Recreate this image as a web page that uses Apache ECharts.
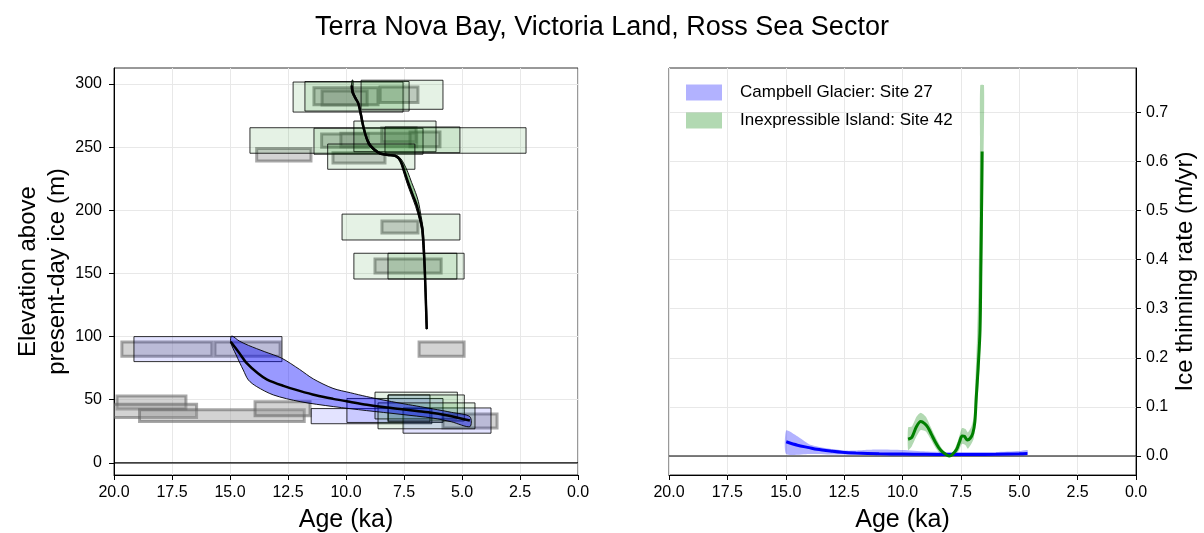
<!DOCTYPE html>
<html>
<head>
<meta charset="utf-8">
<script src="https://cdn.jsdelivr.net/npm/echarts@6/dist/echarts.min.js"></script>
<style>
  html, body { margin: 0; padding: 0; background: #ffffff; }
  #chart { width: 1204px; height: 533px; }
</style>
</head>
<body>
<div id="chart"></div>
<script>
const FONT = '"Liberation Sans", Arial, Helvetica, sans-serif';

// Tick labels
const ageTicks = [0, 2.5, 5, 7.5, 10, 12.5, 15, 17.5, 20];
const elevTicks = [0, 50, 100, 150, 200, 250, 300];
const rateTicks = [0, 0.1, 0.2, 0.3, 0.4, 0.5, 0.6, 0.7];

// Sample boxes: [oldest age ka, youngest age ka, lowest elev m, highest elev m]
const grayBoxes = [
  [11.38, 8.62, 283.6, 297.0],
  [11.03, 9.09, 283.4, 294.5],
  [8.53, 6.90, 285.4, 297.6],
  [13.85, 11.51, 239.0, 249.0],
  [11.05, 9.04, 249.9, 260.4],
  [10.22, 6.95, 250.4, 261.0],
  [10.56, 8.32, 237.5, 245.5],
  [8.46, 6.98, 254.3, 265.4],
  [7.24, 5.95, 250.4, 262.0],
  [8.45, 6.90, 182.0, 191.6],
  [8.75, 5.90, 150.4, 161.5],
  [19.66, 15.78, 84.5, 95.8],
  [15.65, 12.84, 84.5, 95.8],
  [6.85, 4.91, 84.5, 95.8],
  [19.87, 16.90, 42.7, 53.0],
  [20.60, 16.44, 35.9, 46.5],
  [18.90, 11.80, 32.7, 42.0],
  [13.92, 11.55, 37.4, 48.5],
  [5.82, 3.49, 27.7, 38.8]
];
const blueBoxes = [
  [19.14, 12.76, 80.2, 100.0],
  [11.50, 6.30, 31.0, 43.0],
  [9.96, 5.82, 32.0, 51.0],
  [8.19, 6.38, 32.5, 53.8],
  [7.54, 3.75, 23.5, 43.5]
];
const greenBoxes = [
  [12.28, 7.54, 277.8, 301.6],
  [11.77, 7.28, 278.6, 302.0],
  [9.35, 5.82, 280.0, 303.0],
  [14.14, 2.24, 245.2, 265.4],
  [11.38, 6.68, 244.4, 265.0],
  [9.66, 6.12, 246.4, 270.7],
  [8.32, 5.09, 245.6, 266.0],
  [10.79, 7.03, 232.5, 252.5],
  [10.17, 5.09, 176.5, 197.0],
  [9.66, 5.22, 145.6, 166.0],
  [8.19, 4.91, 145.6, 166.0],
  [8.75, 5.20, 34.8, 56.0],
  [8.18, 4.90, 33.2, 53.8],
  [8.62, 4.44, 27.0, 47.5]
];

// Elevation histories [age ka, elevation m]
const campbellElevMean = [[14.97, 96], [14.6, 87], [14.28, 79], [13.8, 71], [13.4, 66], [12.7, 61], [12.0, 57], [11.3, 53.5], [10.56, 50.7], [9.8, 48.2], [9.1, 46], [8.4, 44.2], [7.67, 42.7], [6.95, 41.1], [6.25, 39.5], [5.45, 37], [4.66, 33.5]];
const campbellElevUpper = [[14.93, 100.5], [14.6, 96.5], [14.2, 93], [13.5, 88], [12.77, 82.9], [12.0, 74], [11.41, 66.5], [10.56, 59], [9.8, 55.5], [9.11, 52.5], [8.4, 49.8], [7.67, 47.3], [6.95, 45], [6.24, 42.7], [5.45, 40], [4.66, 36.6]];
const campbellElevLower = [[14.97, 95.5], [14.75, 86], [14.57, 78.9], [14.43, 73.6], [14.21, 65.7], [13.85, 60.4], [13.13, 53.8], [11.98, 48.5], [10.55, 44.6], [9.11, 41.4], [7.67, 38.5], [6.24, 35.4], [5.45, 32.5], [4.66, 28.7]];

const inexElevMean = [[9.76, 299], [9.72, 294], [9.6, 289], [9.47, 284.7], [9.36, 276], [9.25, 266], [9.12, 257.5], [8.97, 251.7], [8.75, 247.6], [8.53, 245], [8.2, 243.8], [7.89, 243.2], [7.72, 241], [7.6, 237.2], [7.45, 229], [7.31, 221.4], [7.12, 212], [6.95, 204], [6.8, 193], [6.7, 184], [6.62, 160], [6.57, 135], [6.52, 106]];
const inexElevOld = [[9.74, 303], [9.76, 294], [9.64, 289], [9.5, 284.7], [9.39, 276], [9.28, 266], [9.15, 257.5], [9.0, 251], [8.77, 247], [8.55, 244.6], [8.2, 243.5], [7.9, 242.8], [7.74, 240.5], [7.63, 236.5], [7.5, 229], [7.36, 221], [7.18, 212], [7.0, 203], [6.84, 193], [6.74, 184], [6.65, 160], [6.59, 135], [6.54, 106]];
const inexElevYoung = [[9.7, 303], [9.68, 294], [9.56, 289], [9.44, 284.7], [9.33, 276], [9.22, 266], [9.09, 257.5], [8.94, 252.3], [8.72, 248.3], [8.5, 245.6], [8.18, 244.3], [7.86, 243.7], [7.68, 241.8], [7.52, 237.5], [7.33, 230], [7.17, 222], [7.0, 214], [6.88, 207], [6.77, 196], [6.68, 186], [6.6, 160], [6.55, 135], [6.5, 106]];

// Thinning rates [age ka, m/yr]
const campbellRate = [[14.98, 0.029], [14.5, 0.022], [14.0, 0.017], [13.67, 0.0136], [13.0, 0.0095], [12.6, 0.0075], [12.0, 0.006], [11.0, 0.0045], [10.0, 0.004], [9.0, 0.0035], [8.0, 0.003], [7.0, 0.003], [6.0, 0.0035], [5.0, 0.0045], [4.65, 0.005]];
const campbellRateUpper = [[14.98, 0.052], [14.5, 0.04], [14.0, 0.024], [13.5, 0.018], [13.0, 0.014], [12.5, 0.011], [12.0, 0.011], [11.5, 0.0125], [11.0, 0.013], [10.0, 0.012], [9.0, 0.009], [8.0, 0.008], [7.0, 0.008], [6.0, 0.008], [5.0, 0.01], [4.65, 0.012]];
const campbellRateLower = [[14.98, 0.004], [14.0, 0.004], [13.0, 0.003], [12.0, 0.002], [10.0, 0.001], [8.0, 0.0005], [6.0, 0.001], [4.65, 0.002]];

const inexRate = [[9.76, 0.034], [9.6, 0.038], [9.4, 0.06], [9.22, 0.07], [9.05, 0.066], [8.91, 0.058], [8.75, 0.043], [8.6, 0.029], [8.45, 0.017], [8.3, 0.0088], [8.1, 0.002], [7.99, 0.0], [7.85, 0.004], [7.68, 0.0136], [7.55, 0.03], [7.45, 0.0407], [7.35, 0.04], [7.22, 0.0326], [7.1, 0.036], [6.99, 0.046], [6.9, 0.07], [6.84, 0.12], [6.76, 0.18], [6.68, 0.256], [6.64, 0.4], [6.61, 0.52], [6.59, 0.62]];
const inexRateUpper = [[9.76, 0.058], [9.6, 0.06], [9.4, 0.08], [9.22, 0.088], [9.0, 0.08], [8.8, 0.06], [8.6, 0.04], [8.4, 0.022], [8.2, 0.008], [8.0, 0.003], [7.8, 0.01], [7.6, 0.035], [7.45, 0.057], [7.3, 0.055], [7.2, 0.048], [7.05, 0.06], [6.95, 0.08], [6.88, 0.15], [6.8, 0.25], [6.74, 0.36], [6.7, 0.5], [6.68, 0.65], [6.67, 0.755]];
const inexRateLower = [[9.76, 0.012], [9.6, 0.02], [9.4, 0.04], [9.22, 0.053], [9.0, 0.05], [8.8, 0.035], [8.6, 0.018], [8.4, 0.006], [8.2, 0.0], [8.0, -0.002], [7.8, 0.0], [7.6, 0.01], [7.45, 0.025], [7.3, 0.022], [7.2, 0.015], [7.05, 0.025], [6.95, 0.035], [6.85, 0.08], [6.75, 0.14], [6.68, 0.2], [6.62, 0.3], [6.56, 0.45], [6.53, 0.6], [6.51, 0.755]];

const zeroLine = [[20, 0], [0, 0]];

const SITE_A = 'Campbell Glacier: Site 27';
const SITE_B = 'Inexpressible Island: Site 42';

function boxSeries(id, data, fill, stroke, lineWidth, z) {
  return {
    type: 'custom', id, xAxisIndex: 0, yAxisIndex: 0, z, clip: true, silent: true,
    data: data,
    renderItem: function (params, api) {
      const tl = api.coord([api.value(0), api.value(3)]);
      const br = api.coord([api.value(1), api.value(2)]);
      return {
        type: 'rect',
        shape: { x: tl[0], y: tl[1], width: br[0] - tl[0], height: br[1] - tl[1] },
        style: { fill: fill, stroke: stroke, lineWidth: lineWidth }
      };
    }
  };
}

function bandSeries(name, axis, edgeA, edgeB, fill, stroke, smooth, z) {
  return {
    type: 'custom', name, xAxisIndex: axis, yAxisIndex: axis, z, clip: true, silent: true,
    itemStyle: { color: fill },
    data: [[edgeA[0][0], edgeA[0][1]]],
    renderItem: function (params, api) {
      const pts = edgeA.concat(edgeB.slice().reverse()).map(p => api.coord(p));
      return {
        type: 'polygon',
        shape: { points: pts, smooth: smooth },
        style: { fill: fill, stroke: stroke || null, lineWidth: stroke ? 0.9 : 0 }
      };
    }
  };
}

function lineSeries(axis, data, color, width, z, smooth) {
  return {
    type: 'line', xAxisIndex: axis, yAxisIndex: axis, data, z,
    showSymbol: false, symbol: 'none', smooth: smooth, silent: true,
    lineStyle: { color, width }, clip: true
  };
}

const tickLabel = { fontFamily: FONT, fontSize: 16, color: '#000' };
const gridLine = { show: true, lineStyle: { color: '#e8e8e8', width: 1 } };

function ageAxis(gridIndex) {
  return {
    type: 'value', gridIndex, min: 0, max: 20, interval: 2.5, inverse: true,
    name: 'Age (ka)', nameLocation: 'middle', nameGap: 33,
    nameTextStyle: { fontFamily: FONT, fontSize: 25, color: '#000' },
    axisLine: { show: true, onZero: false, lineStyle: { color: '#000', width: 1 } },
    axisTick: { show: true, inside: false, length: 5, lineStyle: { color: '#000' } },
    axisLabel: { ...tickLabel, margin: 10, formatter: v => v.toFixed(1), showMinLabel: true, showMaxLabel: true },
    splitLine: gridLine
  };
}

const option = {
  backgroundColor: '#ffffff',
  animation: false,
  title: {
    text: 'Terra Nova Bay, Victoria Land, Ross Sea Sector',
    left: 'center', top: 9,
    textStyle: { fontFamily: FONT, fontSize: 27, fontWeight: 'normal', color: '#000' }
  },
  legend: {
    orient: 'vertical', left: 686, top: 84, padding: 0, itemWidth: 36, itemHeight: 16, itemGap: 11,
    icon: 'rect', selectedMode: false,
    textStyle: { fontFamily: FONT, fontSize: 17, color: '#000', padding: [0, 0, 0, 13] },
    data: [SITE_A, SITE_B]
  },
  grid: [
    { left: 114, right: 626, top: 68, bottom: 58, containLabel: false, outerBoundsMode: 'none', show: true, borderColor: '#333', borderWidth: 1, backgroundColor: 'transparent' },
    { left: 669, right: 68, top: 68, bottom: 58, containLabel: false, outerBoundsMode: 'none', show: true, borderColor: '#333', borderWidth: 1, backgroundColor: 'transparent' }
  ],
  xAxis: [ageAxis(0), ageAxis(1)],
  yAxis: [
    {
      type: 'value', gridIndex: 0, min: -9.6, max: 312.7,
      name: 'Elevation above\npresent-day ice (m)', nameLocation: 'middle', nameGap: 40,
      nameTextStyle: { fontFamily: FONT, fontSize: 24, color: '#000', lineHeight: 29 },
      axisLine: { show: true, onZero: false, lineStyle: { color: '#000' } },
      axisTick: { show: true, length: 5, customValues: elevTicks, lineStyle: { color: '#000' } },
      axisLabel: { ...tickLabel, margin: 12, customValues: elevTicks },
      splitLine: gridLine
    },
    {
      type: 'value', gridIndex: 1, position: 'right', min: -0.0387, max: 0.79,
      name: 'Ice thinning rate (m/yr)', nameLocation: 'middle', nameGap: 37,
      nameTextStyle: { fontFamily: FONT, fontSize: 24, color: '#000' },
      axisLine: { show: true, onZero: false, lineStyle: { color: '#000' } },
      axisTick: { show: true, length: 5, customValues: rateTicks, lineStyle: { color: '#000' } },
      axisLabel: { ...tickLabel, margin: 10, customValues: rateTicks, formatter: v => v.toFixed(1) },
      splitLine: gridLine
    }
  ],
  series: [
    boxSeries('gray', grayBoxes, 'rgba(150,150,150,0.42)', 'rgba(95,95,95,0.55)', 3, 2),
    boxSeries('blueBoxes', blueBoxes, 'rgba(0,0,255,0.11)', 'rgba(0,0,0,0.8)', 1, 3),
    boxSeries('greenBoxes', greenBoxes, 'rgba(0,128,0,0.1)', 'rgba(0,0,0,0.8)', 1, 3),
    lineSeries(0, zeroLine, '#000', 1.2, 4, false),
    bandSeries('campbellElevBand', 0, campbellElevUpper, campbellElevLower, 'rgba(0,0,255,0.4)', '#000', 0.3, 5),
    bandSeries('inexElevBand', 0, inexElevOld, inexElevYoung, 'rgba(0,128,0,0.4)', '#000', 0.3, 5),
    lineSeries(0, campbellElevMean, '#000', 2.5, 6, 0.3),
    lineSeries(0, inexElevMean, '#000', 2.5, 6, 0.3),

    lineSeries(1, zeroLine, '#000', 1.2, 4, false),
    bandSeries(SITE_A, 1, campbellRateUpper, campbellRateLower, 'rgba(0,0,255,0.3)', null, 0.2, 5),
    bandSeries(SITE_B, 1, inexRateUpper, inexRateLower, 'rgba(0,128,0,0.3)', null, 0.2, 5),
    lineSeries(1, campbellRate, '#0000ff', 3, 6, 0.3),
    lineSeries(1, inexRate, '#008000', 3, 6, 0.3)
  ]
};

const chart = echarts.init(document.getElementById('chart'), null, { renderer: 'canvas' });
chart.setOption(option);
</script>
</body>
</html>
